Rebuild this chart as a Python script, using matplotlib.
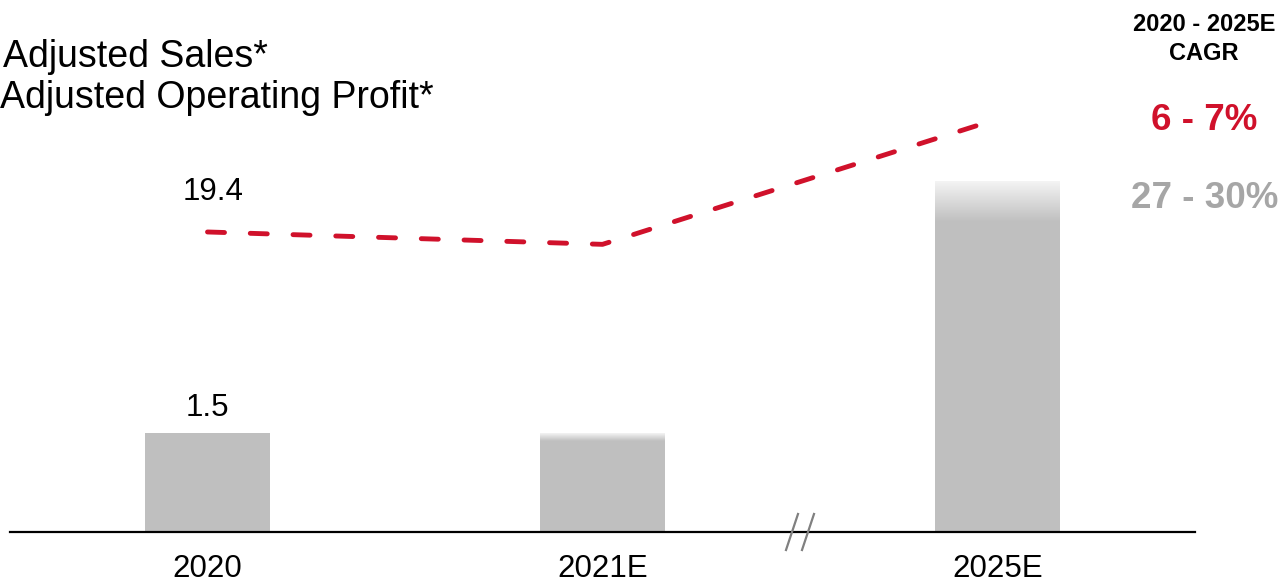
import numpy as np
import matplotlib
matplotlib.use("Agg")
import matplotlib.pyplot as plt
from matplotlib.colors import LinearSegmentedColormap
from matplotlib.lines import Line2D

plt.rcParams["font.family"] = ["Liberation Sans", "DejaVu Sans"]

# Data
categories = ["2020", "2021E", "2025E"]
sales = [1.5, 1.5, 5.32]            # Adjusted Sales (bars)
op_profit = [19.4, 18.6, 26.7]      # Adjusted Operating Profit (dashed line)
bar_labels = ["1.5", "", ""]
line_labels = ["19.4", "", ""]
cagr_header = ["2020 - 2025E", "CAGR"]
cagr_profit = "6 - 7%"
cagr_sales = "27 - 30%"
legend_texts = ["Adjusted Sales*", "Adjusted Operating Profit*"]

# Styles
BAR_COLOR = "#bfbfbf"
FADE_TOP = "#f4f4f4"
RED = "#d0112b"
LABEL_GRAY = "#a6a6a6"
fade_len = [0.0, 0.12, 0.62]   # faded top band of forecast bars (data units)

W, H = 1283, 582
fig = plt.figure(figsize=(W / 100, H / 100), dpi=100)
ax = fig.add_axes([10 / W, (H - 532) / H, (1195 - 10) / W, 532 / H])
ax.set_xlim(-0.5, 2.5)
ax.set_ylim(0, 8.06)

x = np.arange(len(categories))
bw = 0.315
ax.bar(x, sales, width=bw, color=BAR_COLOR, zorder=2)

# gradient cap on the estimated bars
cmap = LinearSegmentedColormap.from_list("fade", [BAR_COLOR, FADE_TOP])
grad = np.linspace(0, 1, 256).reshape(-1, 1)
for xi, v, f in zip(x, sales, fade_len):
    if f > 0:
        ax.imshow(grad, cmap=cmap, origin="lower", aspect="auto",
                  extent=[xi - bw / 2, xi + bw / 2, v - f, v],
                  interpolation="bilinear", zorder=3)
ax.set_xlim(-0.5, 2.5)
ax.set_ylim(0, 8.06)

for xi, v, t in zip(x, sales, bar_labels):
    if t:
        ax.text(xi, v + 0.15, t, ha="center", va="bottom", fontsize=22.5, color="black")

# axis styling
for s in ["top", "right", "left"]:
    ax.spines[s].set_visible(False)
ax.spines["bottom"].set_linewidth(1.6)
ax.spines["bottom"].set_color("black")
ax.set_yticks([])
ax.set_xticks(x)
ax.set_xticklabels(categories, fontsize=22.5)
ax.tick_params(axis="x", length=0, pad=16)

# operating profit on its own scale
ax2 = ax.twinx()
ax2.set_ylim(0, 34.4)
ax2.set_axis_off()
ax2.plot(x, op_profit, color=RED, lw=3.5, dashes=(3.5, 5.3),
         dash_capstyle="round", zorder=4)
for xi, v, t in zip(x, op_profit, line_labels):
    if t:
        ax2.text(xi + 0.015, v + 1.6, t, ha="center", va="bottom", fontsize=22.5, color="black")

# axis break marks
for x0 in [786, 802]:
    fig.add_artist(Line2D([x0 / W, (x0 + 12) / W], [(H - 550) / H, (H - 514) / H],
                          color="#808080", lw=1.6))

# legend-like labels
fig.text(3 / W, (H - 67) / H, legend_texts[0], fontsize=27, ha="left", va="baseline")
fig.text(0 / W, (H - 108) / H, legend_texts[1], fontsize=27, ha="left", va="baseline")

# CAGR column
fig.text(1204 / W, (H - 31) / H, cagr_header[0], fontsize=17, fontweight="bold",
         ha="center", va="baseline")
fig.text(1204 / W, (H - 60) / H, cagr_header[1], fontsize=17, fontweight="bold",
         ha="center", va="baseline")
fig.text(1204 / W, (H - 130) / H, cagr_profit, fontsize=26.5, fontweight="bold",
         color=RED, ha="center", va="baseline")
fig.text(1205 / W, (H - 208) / H, cagr_sales, fontsize=26.5, fontweight="bold",
         color=LABEL_GRAY, ha="center", va="baseline")

fig.savefig("out.png", dpi=100)
